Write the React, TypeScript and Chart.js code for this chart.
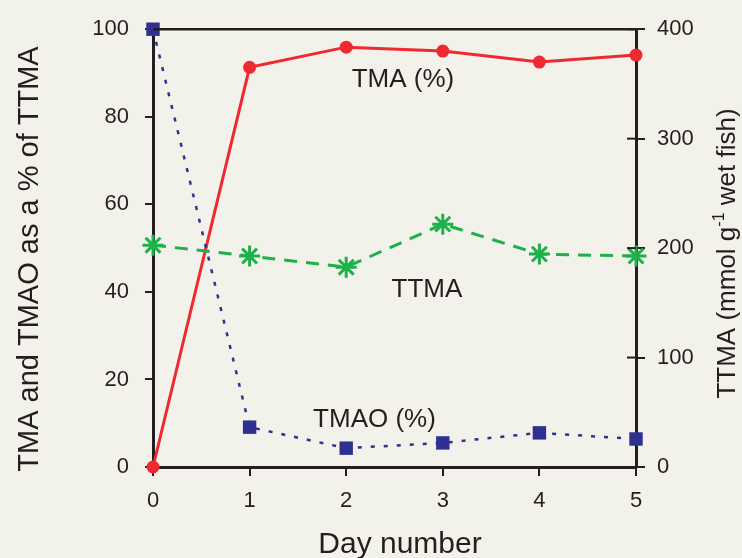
import { useEffect, useRef } from "react";
import { Chart, registerables } from "chart.js";
Chart.register(...registerables);

const days = [0, 1, 2, 3, 4, 5];
const tmaPct = [0, 91.3, 95.9, 95.0, 92.5, 94.1];
const tmaoPct = [100, 9.1, 4.3, 5.5, 7.8, 6.4];
const ttma = [202.7, 192.7, 182.6, 221.9, 194.5, 192.7];
const xTicks = [0, 1, 2, 3, 4, 5];
const leftTicks = [0, 20, 40, 60, 80, 100];
const rightTicks = [0, 100, 200, 300, 400];
const xTitle = "Day number";
const leftTitle = "TMA and TMAO as a % of TTMA";
const rightTitleParts = ["TTMA (mmol g", "-1", " wet fish)"];
const seriesLabels = [
  { text: "TMA (%)", x: 2.588, y: 86.8 },
  { text: "TTMA", x: 2.836, y: 38.8 },
  { text: "TMAO (%)", x: 2.293, y: 9.13 },
];

const FONT = "'Liberation Sans', Arial, Helvetica, sans-serif";
const INK = "#231f20";
const BG = "#f3f2ea";
const RED = "#ee2a30";
const BLUE = "#2e3192";
const GREEN = "#1db04b";

export default function App() {
  const ref = useRef<HTMLCanvasElement | null>(null);
  useEffect(() => {
    if (!ref.current) return;
    const decor = {
      id: "decor",
      beforeDraw(chart: any) {
        const c = chart.ctx;
        c.save();
        c.fillStyle = BG;
        c.fillRect(0, 0, chart.width, chart.height);
        c.restore();
      },
      afterDraw(chart: any) {
        const c = chart.ctx;
        const a = chart.chartArea;
        const y2 = chart.scales.y2;
        c.save();
        c.strokeStyle = INK;
        c.lineWidth = 2.5;
        c.beginPath();
        c.moveTo(a.left, a.top);
        c.lineTo(a.right, a.top);
        c.stroke();
        c.lineWidth = 2;
        rightTicks.forEach((v) => {
          const py = y2.getPixelForValue(v);
          c.beginPath();
          c.moveTo(a.right - 9, py);
          c.lineTo(a.right, py);
          c.stroke();
        });
        c.fillStyle = INK;
        c.font = `30px ${FONT}`;
        c.textAlign = "center";
        c.textBaseline = "alphabetic";
        c.fillText(xTitle, 400, 553);
        c.save();
        c.translate(38, 259);
        c.rotate(-Math.PI / 2);
        c.font = `29px ${FONT}`;
        c.fillText(leftTitle, 0, 0);
        c.restore();
        c.save();
        const main = `26px ${FONT}`;
        const sup = `16px ${FONT}`;
        c.font = main;
        const w1 = c.measureText(rightTitleParts[0]).width;
        const w3 = c.measureText(rightTitleParts[2]).width;
        c.font = sup;
        const w2 = c.measureText(rightTitleParts[1]).width;
        const total = w1 + w2 + w3;
        c.translate(735, 253.5);
        c.rotate(-Math.PI / 2);
        c.textAlign = "left";
        let x0 = -total / 2;
        c.font = main;
        c.fillText(rightTitleParts[0], x0, 0);
        x0 += w1;
        c.font = sup;
        c.fillText(rightTitleParts[1], x0, -11);
        x0 += w2;
        c.font = main;
        c.fillText(rightTitleParts[2], x0, 0);
        c.restore();
        c.restore();
      },
      afterDatasetsDraw(chart: any) {
        const c = chart.ctx;
        const xs = chart.scales.x;
        const ys = chart.scales.y;
        c.save();
        c.fillStyle = INK;
        c.font = `26px ${FONT}`;
        c.textAlign = "center";
        c.textBaseline = "alphabetic";
        seriesLabels.forEach((l) => {
          c.fillText(l.text, xs.getPixelForValue(l.x), ys.getPixelForValue(l.y));
        });
        c.restore();
      },
    };
    const tickFont = { family: FONT, size: 22 };
    const chart = new Chart(ref.current, {
      type: "line",
      data: {
        datasets: [
          {
            label: "TMAO (%)",
            data: days.map((d, i) => ({ x: d, y: tmaoPct[i] })),
            yAxisID: "y",
            borderColor: BLUE,
            backgroundColor: BLUE,
            borderWidth: 2.5,
            borderDash: [4, 9],
            pointStyle: "rect",
            pointRadius: 9.5,
            pointBorderWidth: 0,
            clip: false as any,
          },
          {
            label: "TTMA",
            data: days.map((d, i) => ({ x: d, y: ttma[i] })),
            yAxisID: "y2",
            borderColor: GREEN,
            backgroundColor: GREEN,
            borderWidth: 3,
            borderDash: [13, 9],
            pointStyle: "star",
            pointRadius: 10.5,
            pointBorderWidth: 3,
            pointBorderColor: GREEN,
            clip: false as any,
          },
          {
            label: "TMA (%)",
            data: days.map((d, i) => ({ x: d, y: tmaPct[i] })),
            yAxisID: "y",
            borderColor: RED,
            backgroundColor: RED,
            borderWidth: 3,
            pointStyle: "circle",
            pointRadius: 6.5,
            pointBorderWidth: 0,
            clip: false as any,
          },
        ],
      },
      options: {
        animation: false,
        responsive: false,
        layout: { padding: { top: 29, left: 0, right: 0, bottom: 0 } },
        plugins: { legend: { display: false }, tooltip: { enabled: false } },
        scales: {
          x: {
            type: "linear",
            min: 0,
            max: 5,
            afterBuildTicks: (s: any) => {
              s.ticks = xTicks.map((v) => ({ value: v }));
            },
            afterFit: (s: any) => {
              s.height = 91;
            },
            grid: { drawOnChartArea: false, drawTicks: true, tickLength: 9, color: INK, lineWidth: 2 },
            border: { display: true, color: INK, width: 3 },
            ticks: { font: tickFont, color: INK, padding: 12, maxRotation: 0 },
          },
          y: {
            type: "linear",
            position: "left",
            min: 0,
            max: 100,
            afterBuildTicks: (s: any) => {
              s.ticks = leftTicks.map((v) => ({ value: v }));
            },
            afterFit: (s: any) => {
              s.width = 153;
            },
            grid: { drawOnChartArea: false, drawTicks: true, tickLength: 8, color: INK, lineWidth: 2 },
            border: { display: true, color: INK, width: 3 },
            ticks: { font: tickFont, color: INK, padding: 16 },
          },
          y2: {
            type: "linear",
            position: "right",
            min: 0,
            max: 400,
            afterBuildTicks: (s: any) => {
              s.ticks = rightTicks.map((v) => ({ value: v }));
            },
            afterFit: (s: any) => {
              s.width = 106;
            },
            grid: { drawOnChartArea: false, drawTicks: true, tickLength: 9, color: INK, lineWidth: 2 },
            border: { display: true, color: INK, width: 3 },
            ticks: { font: tickFont, color: INK, padding: 12 },
          },
        },
      } as any,
      plugins: [decor],
    });
    return () => chart.destroy();
  }, []);
  return (
    <div style={{ position: "fixed", left: 0, top: 0, width: 742, height: 558, background: BG }}>
      <canvas ref={ref} width={742} height={558} style={{ display: "block" }} />
    </div>
  );
}
